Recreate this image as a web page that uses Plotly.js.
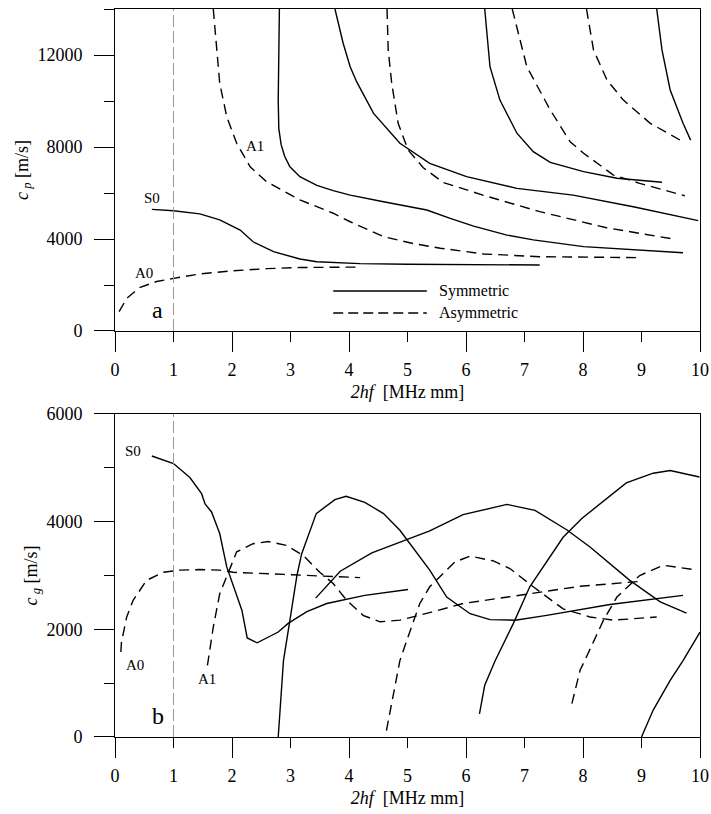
<!DOCTYPE html>
<html>
<head>
<meta charset="utf-8">
<script src="https://cdn.plot.ly/plotly-3.0.1.min.js"></script>
<style>html,body{margin:0;padding:0;background:#fff;}#chart{width:711px;height:814px;}</style>
</head>
<body>
<div id="chart"></div>
<script>
// ---------- Panel a: phase velocity c_p [m/s] vs 2hf [MHz mm] ----------
var cpS0x = [0.63, 1.0, 1.45, 1.79, 2.14, 2.3, 2.36, 2.71, 3.16, 3.45, 4.19, 5.0, 6.0, 7.26];
var cpS0y = [5290, 5230, 5090, 4830, 4390, 4000, 3880, 3450, 3130, 3010, 2930, 2900, 2890, 2870];
var cpA0x = [0.07, 0.2, 0.43, 0.71, 1.0, 1.45, 2.02, 2.59, 3.16, 4.15];
var cpA0y = [840, 1420, 1900, 2150, 2290, 2480, 2620, 2710, 2760, 2780];
var cpA1x = [1.68, 1.74, 1.79, 1.91, 2.08, 2.31, 2.59, 3.16, 3.73, 4.02, 4.59, 5.1, 5.56, 6.3, 7.26, 8.97];
var cpA1y = [14000, 12220, 10770, 9320, 8160, 7140, 6490, 5700, 5120, 4750, 4100, 3800, 3600, 3350, 3230, 3190];
var cpS1x = [2.81, 2.79, 2.8, 2.84, 2.9, 2.99, 3.16, 3.45, 3.73, 4.02, 4.59, 5.33, 5.73, 6.13, 6.7, 7.15, 8.01, 9.71];
var cpS1y = [14000, 10040, 8800, 8100, 7600, 7140, 6710, 6330, 6100, 5910, 5620, 5260, 4900, 4560, 4170, 3960, 3670, 3400];
var cpS2x = [3.76, 3.9, 4.02, 4.13, 4.42, 4.87, 5.38, 6.01, 6.87, 7.83, 8.86, 9.97];
var cpS2y = [14000, 12510, 11490, 10840, 9460, 8160, 7290, 6710, 6200, 5910, 5400, 4800];
var cpA2x = [4.65, 4.67, 4.73, 4.84, 5.01, 5.27, 5.61, 6.3, 7.26, 8.4, 9.54];
var cpA2y = [14000, 12220, 10770, 9030, 7870, 7100, 6460, 5900, 5190, 4490, 4000];
var cpS3x = [6.32, 6.41, 6.58, 6.87, 7.15, 7.44, 8.01, 8.58, 9.35];
var cpS3y = [14000, 11490, 10040, 8600, 7800, 7330, 6930, 6640, 6470];
var cpA3x = [6.79, 7.04, 7.44, 7.78, 8.01, 8.52, 8.97, 9.74];
var cpA3y = [14000, 11490, 9610, 8230, 7730, 6780, 6420, 5880];
var cpA4x = [8.06, 8.18, 8.41, 8.69, 9.15, 9.66];
var cpA4y = [14000, 12220, 10910, 10040, 9030, 8300];
var cpS4x = [9.26, 9.35, 9.49, 9.71, 9.84];
var cpS4y = [14000, 12220, 10480, 9030, 8300];

// ---------- Panel b: group velocity c_g [m/s] vs 2hf [MHz mm] ----------
var cgS0x = [0.63, 1.0, 1.28, 1.48, 1.54, 1.65, 1.79, 1.91, 2.17, 2.26, 2.43, 2.79, 2.96, 3.28, 3.62, 4.27, 5.01];
var cgS0y = [5220, 5080, 4820, 4520, 4330, 4180, 3780, 3160, 2350, 1840, 1750, 1950, 2110, 2330, 2480, 2630, 2740];
var cgB1x = [2.79, 2.88, 2.99, 3.11, 3.19, 3.44, 3.76, 3.95, 4.27, 4.59, 4.87, 5.21, 5.38, 5.67, 6.07, 6.41, 6.84, 7.38, 8.46, 9.71];
var cgB1y = [0, 1420, 2170, 3000, 3400, 4150, 4410, 4470, 4360, 4150, 3840, 3340, 3100, 2600, 2290, 2180, 2170, 2260, 2460, 2630];
var cgB2x = [3.43, 3.85, 4.39, 4.96, 5.38, 5.95, 6.47, 6.7, 7.18, 7.72, 8.12, 8.8, 9.32, 9.77];
var cgB2y = [2580, 3080, 3420, 3650, 3830, 4130, 4270, 4320, 4210, 3850, 3530, 2910, 2510, 2300];
var cgB3x = [6.23, 6.32, 6.5, 6.81, 7.09, 7.35, 7.66, 7.98, 8.4, 8.74, 9.2, 9.49, 9.99];
var cgB3y = [430, 960, 1420, 2110, 2790, 3220, 3710, 4060, 4430, 4720, 4900, 4950, 4830];
var cgB4x = [9.0, 9.2, 9.49, 9.71, 10.0];
var cgB4y = [0, 500, 1050, 1420, 1950];
var cgA0x = [0.1, 0.11, 0.2, 0.31, 0.54, 0.83, 1.11, 1.45, 1.79, 2.02, 2.88, 4.19];
var cgA0y = [1580, 1760, 2230, 2540, 2910, 3060, 3100, 3110, 3100, 3060, 3020, 2960];
var cgA1x = [1.58, 1.68, 1.79, 2.08, 2.36, 2.62, 2.93, 3.22, 3.5, 3.73, 3.96, 4.24, 4.53, 4.87, 5.41, 5.95, 7.09, 7.95, 8.97];
var cgA1y = [1330, 2040, 2660, 3440, 3590, 3630, 3560, 3370, 3060, 2850, 2540, 2260, 2140, 2170, 2320, 2480, 2660, 2800, 2890];
var cgA2x = [4.64, 4.81, 4.87, 4.99, 5.21, 5.38, 5.81, 6.07, 6.47, 6.75, 7.15, 7.66, 8.12, 8.52, 9.26];
var cgA2y = [120, 1110, 1420, 1800, 2480, 2790, 3250, 3360, 3270, 3130, 2790, 2380, 2230, 2170, 2230];
var cgA3x = [7.81, 7.95, 8.06, 8.35, 8.58, 8.97, 9.37, 9.89];
var cgA3y = [620, 1240, 1490, 2170, 2600, 3000, 3190, 3110];

// ---------- tick labels / text ----------
var xTickVals = [0, 1, 2, 3, 4, 5, 6, 7, 8, 9, 10];
var xTickText = ['0', '1', '2', '3', '4', '5', '6', '7', '8', '9', '10'];
var xLongTicks = [0, 2, 4, 6, 8, 10];
var cpTickVals = [0, 4000, 8000, 12000];
var cpTickText = ['0', '4000', '8000', '12000'];
var cgTickVals = [0, 2000, 4000, 6000];
var cgTickText = ['0', '2000', '4000', '6000'];
var xTitle = '<i>2hf</i>  [MHz mm]';
var cpTitle = '<i>c</i><sub> <i>p</i></sub> [m/s]';
var cgTitle = '<i>c</i><sub> <i>g</i></sub> [m/s]';

var FONT = 'Liberation Serif';
var SOLID = {color: '#000', width: 1.4};
var DASHED = {color: '#000', width: 1.4, dash: '10px,6px'};

function tr(x, y, line, xa, ya) {
  return {x: x, y: y, mode: 'lines', line: line, xaxis: xa, yaxis: ya,
          showlegend: false, hoverinfo: 'skip', type: 'scatter'};
}
var data = [
  tr(cpS0x, cpS0y, SOLID, 'x', 'y'),
  tr(cpA0x, cpA0y, DASHED, 'x', 'y'),
  tr(cpA1x, cpA1y, DASHED, 'x', 'y'),
  tr(cpS1x, cpS1y, SOLID, 'x', 'y'),
  tr(cpS2x, cpS2y, SOLID, 'x', 'y'),
  tr(cpA2x, cpA2y, DASHED, 'x', 'y'),
  tr(cpS3x, cpS3y, SOLID, 'x', 'y'),
  tr(cpA3x, cpA3y, DASHED, 'x', 'y'),
  tr(cpA4x, cpA4y, DASHED, 'x', 'y'),
  tr(cpS4x, cpS4y, SOLID, 'x', 'y'),
  tr(cgS0x, cgS0y, SOLID, 'x2', 'y2'),
  tr(cgB1x, cgB1y, SOLID, 'x2', 'y2'),
  tr(cgB2x, cgB2y, SOLID, 'x2', 'y2'),
  tr(cgB3x, cgB3y, SOLID, 'x2', 'y2'),
  tr(cgB4x, cgB4y, SOLID, 'x2', 'y2'),
  tr(cgA0x, cgA0y, DASHED, 'x2', 'y2'),
  tr(cgA1x, cgA1y, DASHED, 'x2', 'y2'),
  tr(cgA2x, cgA2y, DASHED, 'x2', 'y2'),
  tr(cgA3x, cgA3y, DASHED, 'x2', 'y2'),
  // empty helpers so the long-tick overlay axes are drawn
  {x: [], y: [], xaxis: 'x3', yaxis: 'y', type: 'scatter', showlegend: false, hoverinfo: 'skip'},
  {x: [], y: [], xaxis: 'x4', yaxis: 'y2', type: 'scatter', showlegend: false, hoverinfo: 'skip'}
];

var tickFont = {family: FONT, size: 18, color: '#000'};
function xAxis(anchor) {
  return {anchor: anchor, domain: [0, 1], range: [0, 10], tickmode: 'array', tickvals: xTickVals, ticktext: xTickText,
          ticks: 'outside', ticklen: 10, tickwidth: 1, tickcolor: '#000', ticklabelstandoff: 12,
          showline: true, linecolor: '#000', linewidth: 1, mirror: true,
          showgrid: false, zeroline: false, tickfont: tickFont,
          title: {text: xTitle, font: {family: FONT, size: 18, color: '#000'}, standoff: 6}};
}
function xLong(over, anchor) {
  return {overlaying: over, anchor: anchor, range: [0, 10], tickmode: 'array', tickvals: xLongTicks,
          ticks: 'outside', ticklen: 20, tickwidth: 1, tickcolor: '#000', showticklabels: false,
          showline: false, showgrid: false, zeroline: false, side: 'bottom'};
}
function yAxis(anchor, dom, rng, vals, text, minorStep, title) {
  return {anchor: anchor, domain: dom, range: rng, tickmode: 'array', tickvals: vals, ticktext: text,
          ticks: 'outside', ticklen: 20, tickwidth: 1, tickcolor: '#000', ticklabelstandoff: 8,
          minor: {dtick: minorStep, tick0: 0, ticks: 'outside', ticklen: 10, tickwidth: 1, tickcolor: '#000'},
          showline: true, linecolor: '#000', linewidth: 1, mirror: true,
          showgrid: false, zeroline: false, tickfont: tickFont,
          title: {text: title, font: {family: FONT, size: 18, color: '#000'}, standoff: 4}};
}

var layout = {
  width: 711, height: 814,
  margin: {l: 115, r: 11, t: 9, b: 77},
  paper_bgcolor: '#fff', plot_bgcolor: '#fff',
  showlegend: false,
  font: {family: FONT, color: '#000'},
  xaxis: xAxis('y'),
  xaxis2: xAxis('y2'),
  xaxis3: xLong('x', 'y'),
  xaxis4: xLong('x2', 'y2'),
  yaxis: yAxis('x', [0.5577, 1], [0, 14000], cpTickVals, cpTickText, 2000, cpTitle),
  yaxis2: yAxis('x2', [0, 0.4437], [0, 6000], cgTickVals, cgTickText, 1000, cgTitle),
  shapes: [
    {type: 'line', xref: 'x', yref: 'y domain', x0: 1, x1: 1, y0: 0, y1: 1,
     line: {color: '#9a9a9a', width: 1, dash: '12px,4px'}},
    {type: 'line', xref: 'x2', yref: 'y2 domain', x0: 1, x1: 1, y0: 0, y1: 1,
     line: {color: '#9a9a9a', width: 1, dash: '12px,4px'}},
    {type: 'line', xref: 'x', yref: 'y', x0: 3.73, x1: 5.33, y0: 1740, y1: 1740,
     line: {color: '#000', width: 1.4}},
    {type: 'line', xref: 'x', yref: 'y', x0: 3.73, x1: 5.33, y0: 780, y1: 780,
     line: {color: '#000', width: 1.4, dash: '10px,5px'}}
  ],
  annotations: [
    {text: 'Symmetric', x: 5.5, y: 1740, xref: 'x', yref: 'y', xanchor: 'left', yanchor: 'middle', showarrow: false, font: {family: FONT, size: 16, color: '#000'}},
    {text: 'Asymmetric', x: 5.5, y: 780, xref: 'x', yref: 'y', xanchor: 'left', yanchor: 'middle', showarrow: false, font: {family: FONT, size: 16, color: '#000'}},
    {text: 'S0', x: 0.63, y: 5780, xref: 'x', yref: 'y', showarrow: false, font: {family: FONT, size: 15, color: '#000'}},
    {text: 'A0', x: 0.5, y: 2510, xref: 'x', yref: 'y', showarrow: false, font: {family: FONT, size: 15, color: '#000'}},
    {text: 'A1', x: 2.39, y: 8060, xref: 'x', yref: 'y', showarrow: false, font: {family: FONT, size: 15, color: '#000'}},
    {text: 'a', x: 0.72, y: 910, xref: 'x', yref: 'y', showarrow: false, font: {family: FONT, size: 24, color: '#000'}},
    {text: 'S0', x: 0.31, y: 5320, xref: 'x2', yref: 'y2', showarrow: false, font: {family: FONT, size: 15, color: '#000'}},
    {text: 'A0', x: 0.34, y: 1330, xref: 'x2', yref: 'y2', showarrow: false, font: {family: FONT, size: 15, color: '#000'}},
    {text: 'A1', x: 1.58, y: 1080, xref: 'x2', yref: 'y2', showarrow: false, font: {family: FONT, size: 15, color: '#000'}},
    {text: 'b', x: 0.73, y: 385, xref: 'x2', yref: 'y2', showarrow: false, font: {family: FONT, size: 24, color: '#000'}}
  ]
};

Plotly.newPlot('chart', data, layout, {staticPlot: true, displayModeBar: false});
</script>
</body>
</html>
